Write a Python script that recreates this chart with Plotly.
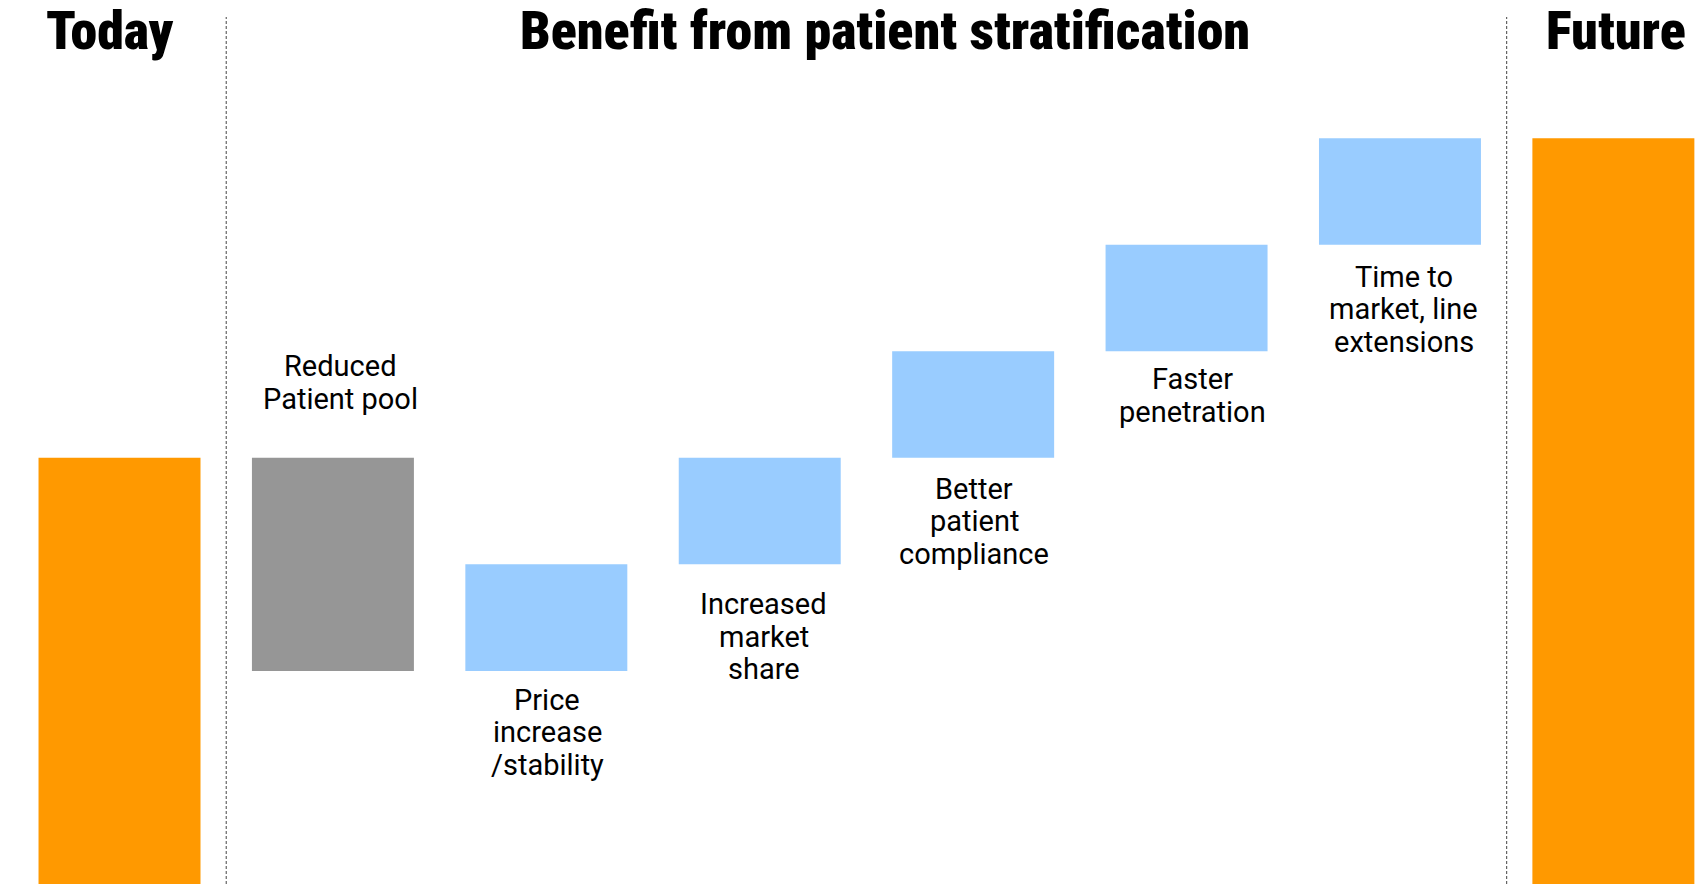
import plotly.graph_objects as go

# ---- data ----
categories = ["Today", "Reduced Patient pool", "Price increase /stability",
              "Increased market share", "Better patient compliance",
              "Faster penetration", "Time to market, line extensions", "Future"]
measures = ["absolute", "relative", "relative", "relative", "relative",
            "relative", "relative", "total"]
values = [4, -2, 1, 1, 1, 1, 1, 0]
label_lines = [
    None,
    ["Reduced", "Patient pool"],
    ["Price", "increase", "/stability"],
    ["Increased", "market", "share"],
    ["Better", "patient", "compliance"],
    ["Faster", "penetration"],
    ["Time to", "market, line", "extensions"],
    None,
]
section_titles = ["Today", "Benefit from patient stratification", "Future"]

ORANGE = "#FF9900"
BLUE = "#99CCFF"
GRAY = "#969696"

fig = go.Figure(go.Waterfall(
    x=list(range(len(categories))),
    measure=measures,
    y=values,
    base=0,
    increasing=dict(marker=dict(color=BLUE)),
    decreasing=dict(marker=dict(color=GRAY)),
    totals=dict(marker=dict(color=ORANGE)),
    connector=dict(visible=False),
    hoverinfo="skip",
    textinfo="none",
))

level = 0
tops, bottoms = [], []
for m, v in zip(measures, values):
    if m == "absolute":
        lo, hi = 0, v
        level = v
    elif m == "total":
        lo, hi = 0, level
    else:
        new = level + v
        lo, hi = min(level, new), max(level, new)
        level = new
    tops.append(hi)
    bottoms.append(lo)

LABEL_FONT = dict(family="Roboto, Arial, sans-serif", size=29, color="black")
LINE = 32.5
annotations = []
below_offsets = {2: 39, 3: 50, 4: 41, 5: 38, 6: 42}
xshifts = {1: 8, 2: 1, 3: 4, 4: 1, 5: 6, 6: 4}
for i, lines in enumerate(label_lines):
    if not lines:
        continue
    n = len(lines)
    for j, txt in enumerate(lines):
        if values[i] < 0:
            base_px = 49 + (n - 1 - j) * LINE
            ys = base_px + 10
            y = tops[i]
        else:
            base_px = below_offsets[i] + j * LINE
            ys = -(base_px - 10)
            y = bottoms[i]
        annotations.append(dict(
            x=i, y=y, xref="x", yref="y", text=txt, showarrow=False,
            xanchor="center", yanchor="middle", yshift=ys, xshift=xshifts[i],
            font=LABEL_FONT,
        ))

TITLE_FONT = dict(family="Roboto Condensed, DejaVu Sans, sans-serif", size=54,
                  color="black", weight=900)
for x, xs, t in zip([0, 3.587, 7], [-10, 0, 3], section_titles):
    annotations.append(dict(
        x=x, y=1, xref="x", yref="paper", text=t, showarrow=False,
        xanchor="center", yanchor="middle", yshift=-30, xshift=xs, font=TITLE_FONT,
    ))

shapes = []
for xv in [0.5, 6.5]:
    shapes.append(dict(type="line", xref="x", yref="paper", x0=xv, x1=xv,
                       y0=0, y1=1 - 17 / 884,
                       line=dict(color="#444444", width=1, dash="3px,2px")))

fig.update_layout(
    width=1706, height=884,
    margin=dict(l=0, r=0, t=0, b=0),
    paper_bgcolor="white", plot_bgcolor="white",
    showlegend=False,
    waterfallgap=0.241,
    xaxis=dict(range=[-0.56, 7.434], visible=False, fixedrange=True),
    yaxis=dict(range=[0, 8.297], visible=False, fixedrange=True),
    annotations=annotations,
    shapes=shapes,
)

fig.write_html("out.html", config={"displayModeBar": False},
               post_script="document.body.style.margin='0';document.body.style.overflow='hidden';")
